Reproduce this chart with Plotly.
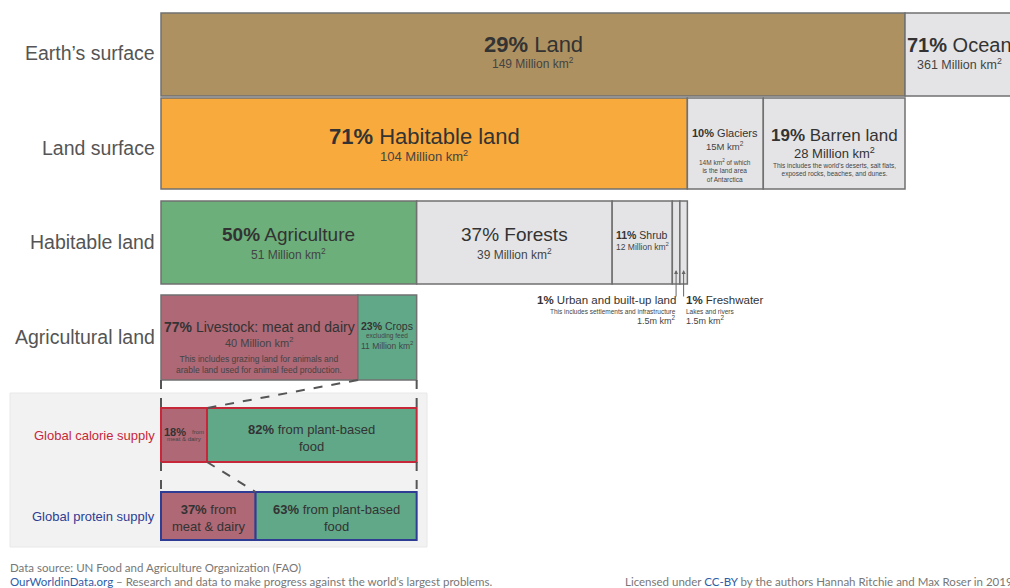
import numpy as np
import plotly.graph_objects as go

# values in million km2 (land), shares in percent (agriculture and food supply)
earth_labels = ["Land", "Ocean"]
earth_vals = [149, 361]
land_labels = ["Habitable land", "Glaciers", "Barren land"]
land_vals = [104, 15, 28]
hab_labels = ["Agriculture", "Forests", "Shrub", "Urban", "Freshwater"]
hab_vals = [51, 39, 12, 1.5, 1.5]
agri_labels = ["Livestock", "Crops"]
agri_pct = [77, 23]
agri_vals = [40, 11]
calorie_pct = [18, 82]
protein_pct = [37, 63]

FONT = "Liberation Sans, Arial, sans-serif"
LATO = "Lato, sans-serif"
TXT = "#333333"
SUB = "#444444"
GREY = "#E4E4E6"
EDGE = "#707070"
RED = "#C6283A"
NAVY = "#2F3C93"
MEAT = "#AE6876"
PLANT = "#61A889"

# pixel scale of the x axis and rows (top, height)
px_per = 744 / 149.0
x_lo = -161 / px_per
x_hi = (1010 - 161) / px_per
rows = {"earth": (13, 83), "land": (98, 91), "hab": (201, 83),
        "agri": (295, 85), "cal": (408, 54), "prot": (492, 48)}

def fit(vals, total):
    # each row is drawn as a split of its parent box
    v = np.asarray(vals, float)
    return list(v / v.sum() * total)

def starts(v):
    v = np.asarray(v, float)
    return np.concatenate([[0], np.cumsum(v)[:-1]])

earth_w = list(map(float, earth_vals))
land_w = fit(land_vals, earth_w[0])
hab_w = fit(hab_vals, land_w[0])
agri_w = fit(agri_pct, hab_w[0])
agri_total = hab_w[0]
cal_w = fit(calorie_pct, agri_total)
prot_w = fit(protein_pct, agri_total)

bases, widths, ys, hs, fills, lines, lws = [], [], [], [], [], [], []
def add_row(w_list, row, colors, edge, lw=1.5):
    top, h = rows[row]
    for b, w, c in zip(starts(w_list), w_list, colors):
        bases.append(b); widths.append(w); ys.append(top + h / 2); hs.append(h)
        fills.append(c); lines.append(edge); lws.append(lw)

add_row(earth_w, "earth", ["#AE9161", GREY], EDGE)
add_row(land_w, "land", ["#F8AA3C", GREY, GREY], EDGE)
add_row(hab_w, "hab", ["#6CAF7A", GREY, GREY, GREY, GREY], EDGE)
add_row(agri_w, "agri", [MEAT, PLANT], EDGE)
add_row(cal_w, "cal", [MEAT, PLANT], RED, 2)
add_row(prot_w, "prot", [MEAT, PLANT], NAVY, 2)

fig = go.Figure(go.Bar(
    orientation="h", base=bases, x=widths, y=ys, width=hs,
    marker=dict(color=fills, line=dict(color=lines, width=lws)),
    hoverinfo="skip"))

ann = []
def t(x, y, text, size, color=TXT, xanchor="center", xref="x", font=FONT):
    ann.append(dict(x=x, y=y, xref=xref, yref="y", text=text, showarrow=False,
                    font=dict(family=font, size=size, color=color), xanchor=xanchor,
                    yanchor="middle", align="center" if xanchor == "center" else xanchor))

def cen(w_list, i):
    return starts(w_list)[i] + w_list[i] / 2

km = " Million km<sup>2</sup>"

# Earth row
t(cen(earth_w, 0), 44, f"<b>{round(earth_vals[0] / sum(earth_vals) * 100)}%</b> {earth_labels[0]}", 22)
t(cen(earth_w, 0), 63, f"{earth_vals[0]}{km}", 12, SUB)
t(earth_w[0] + 10.9, 45, f"<b>{round(earth_vals[1] / sum(earth_vals) * 100)}%</b> {earth_labels[1]}", 20)
t(earth_w[0] + 10.9, 64, f"{earth_vals[1]}{km}", 12.5, SUB)

# Land surface row
t(cen(land_w, 0), 136, "<b>71%</b> Habitable land", 22)
t(cen(land_w, 0), 156, f"{land_vals[0]}{km}", 13, SUB)
t(cen(land_w, 1), 133, "<b>10%</b> Glaciers", 11)
t(cen(land_w, 1), 146, f"{land_vals[1]}M km<sup>2</sup>", 9.5, SUB)
t(cen(land_w, 1), 170, "14M km<sup>2</sup> of which<br>is the land area<br>of Antarctica", 6.5, SUB)
t(cen(land_w, 2), 135, "<b>19%</b> Barren land", 17)
t(cen(land_w, 2), 153, f"{land_vals[2]}{km}", 13)
t(cen(land_w, 2), 170, "This includes the world’s deserts, salt flats,<br>exposed rocks, beaches, and dunes.", 6.5, SUB)

# Habitable land row
t(cen(hab_w, 0), 234, "<b>50%</b> Agriculture", 19)
t(cen(hab_w, 0), 254, f"{hab_vals[0]}{km}", 12, SUB)
t(cen(hab_w, 1), 234, "37% Forests", 19)
t(cen(hab_w, 1), 254, f"{hab_vals[1]}{km}", 12, SUB)
t(cen(hab_w, 2), 235, "<b>11%</b> Shrub", 10.5)
t(cen(hab_w, 2), 246, f"{hab_vals[2]}{km}", 8.5, SUB)

ux = cen(hab_w, 3)
fx = cen(hab_w, 4)
for xx in (ux, fx):
    ann.append(dict(x=xx, y=270, xref="x", yref="y", ax=xx, ay=298, axref="x", ayref="y",
                    text="", showarrow=True, arrowhead=2, arrowsize=0.8, arrowwidth=1,
                    arrowcolor="#666"))
t(ux + 0.3, 300, "<b>1%</b> Urban and built-up land", 11.5, xanchor="right")
t(ux + 0.3, 311, "This includes settlements and infrastructure", 6.5, SUB, xanchor="right")
t(ux + 0.3, 320, "1.5m km<sup>2</sup>", 9, SUB, xanchor="right")
t(fx + 0.1, 300, "<b>1%</b> Freshwater", 11.5, xanchor="left")
t(fx + 0.1, 311, "Lakes and rivers", 6.5, SUB, xanchor="left")
t(fx + 0.1, 320, "1.5m km<sup>2</sup>", 9, SUB, xanchor="left")

# Agricultural land row
t(cen(agri_w, 0), 327, f"<b>{agri_pct[0]}%</b> Livestock: meat and dairy", 14)
t(cen(agri_w, 0), 342, f"{agri_vals[0]}{km}", 11, SUB)
t(cen(agri_w, 0), 364, "This includes grazing land for animals and<br>arable land used for animal feed production.", 8.5, SUB)
t(cen(agri_w, 1), 326, f"<b>{agri_pct[1]}%</b> Crops", 10.5)
t(cen(agri_w, 1), 336, "excluding feed", 6.5, SUB)
t(cen(agri_w, 1), 345, f"{agri_vals[1]}{km}", 8.5, SUB)

# calorie and protein rows
t(0.2, 432, f"<b>{calorie_pct[0]}%</b>", 11, xanchor="left")
t(cal_w[0] - 0.3, 432, "from", 6, SUB, xanchor="right")
t(cal_w[0] / 2, 439, "meat & dairy", 6, SUB)
t(cen(cal_w, 1), 438, f"<b>{calorie_pct[1]}%</b> from plant-based<br>food", 13)
t(cen(prot_w, 0), 518, f"<b>{protein_pct[0]}%</b> from<br>meat & dairy", 13)
t(cen(prot_w, 1), 518, f"<b>{protein_pct[1]}%</b> from plant-based<br>food", 13)

# row labels
lx = 157 / 1010
t(lx, 53, "Earth’s surface", 19.5, "#555", "right", "paper")
t(lx, 148, "Land surface", 19.5, "#555", "right", "paper")
t(lx, 242, "Habitable land", 19.5, "#555", "right", "paper")
t(lx, 337, "Agricultural land", 19.5, "#555", "right", "paper")
t(lx, 435, "Global calorie supply", 13, RED, "right", "paper")
t(lx, 516, "Global protein supply", 13, NAVY, "right", "paper")

# footer
t(8 / 1010, 567, "Data source: UN Food and Agriculture Organization (FAO)", 11.5, "#777", "left", "paper", LATO)
t(8 / 1010, 581, "<span style='color:#2E5DA8'>OurWorldinData.org</span> – Research and data to make progress against the world’s largest problems.",
  11.5, "#777", "left", "paper", LATO)
t(623 / 1010, 581, "Licensed under <span style='color:#2E5DA8'>CC-BY</span> by the authors Hannah Ritchie and Max Roser in 2019",
  11.5, "#777", "left", "paper", LATO)

shapes = [dict(type="rect", xref="paper", yref="y", x0=10 / 1010, x1=427 / 1010, y0=393, y1=547,
               fillcolor="#F2F2F2", line=dict(color="#E8E8E8", width=1), layer="below")]
dash = dict(color="#555", width=2, dash="dash")
agri_bot = rows["agri"][0] + rows["agri"][1]
cal_top, cal_h = rows["cal"]
prot_top = rows["prot"][0]
for xx in (0, agri_total):
    shapes.append(dict(type="line", xref="x", yref="y", x0=xx, x1=xx, y0=agri_bot, y1=cal_top, line=dash))
    shapes.append(dict(type="line", xref="x", yref="y", x0=xx, x1=xx, y0=cal_top + cal_h, y1=prot_top, line=dash))
shapes.append(dict(type="line", xref="x", yref="y", x0=agri_w[0], x1=cal_w[0], y0=agri_bot, y1=cal_top, line=dash))
shapes.append(dict(type="line", xref="x", yref="y", x0=cal_w[0], x1=prot_w[0], y0=cal_top + cal_h, y1=prot_top, line=dash))

fig.update_layout(
    width=1010, height=588, margin=dict(l=0, r=0, t=0, b=0),
    paper_bgcolor="white", plot_bgcolor="white", showlegend=False,
    barmode="overlay", annotations=ann, shapes=shapes,
    xaxis=dict(range=[x_lo, x_hi], visible=False, fixedrange=True),
    yaxis=dict(range=[588, 0], visible=False, fixedrange=True),
)

fig.write_html("out.html", config={"displayModeBar": False},
               post_script="document.body.style.margin='0';")
